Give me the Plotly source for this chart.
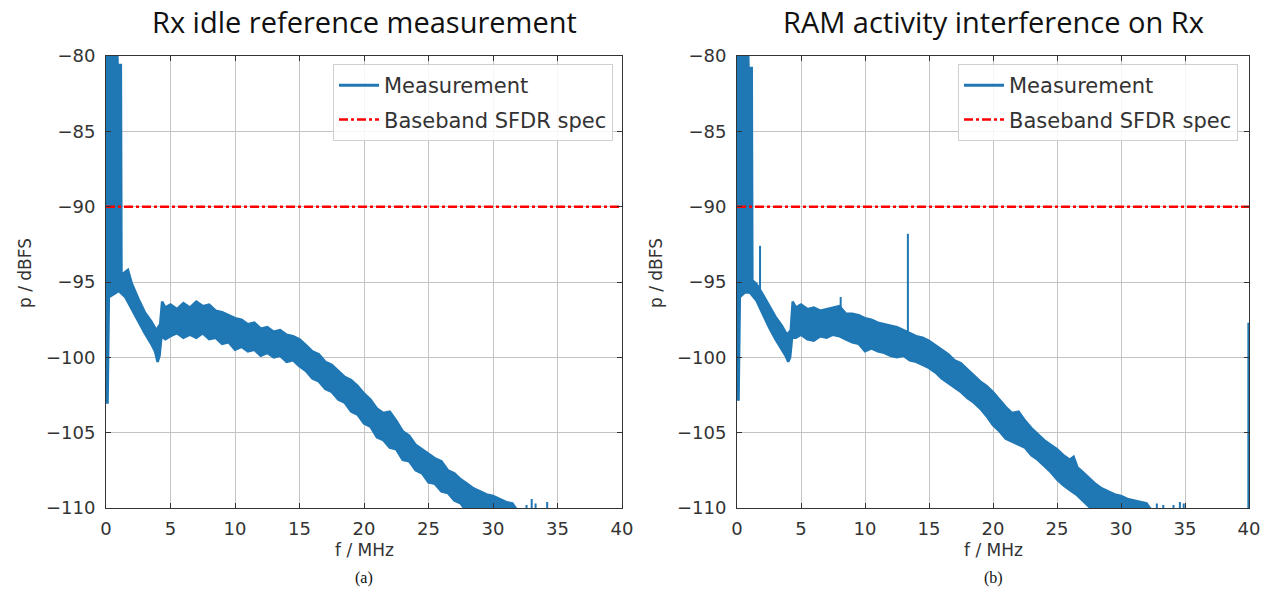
import plotly.graph_objects as go

# ---------------- data ----------------
panel_titles = ["Rx idle reference measurement", "RAM activity interference on Rx"]
panel_labels = ["(a)", "(b)"]
x_ticks = [0, 5, 10, 15, 20, 25, 30, 35, 40]
y_ticks = [-110, -105, -100, -95, -90, -85, -80]
sfdr_spec_db = -90.0

# panel (a): upper and lower envelope of the noisy measurement trace
upper_f_a = [0.0, 0.85, 0.9, 1.15, 1.2, 1.4, 1.7, 2.0, 2.5, 3.0, 3.5, 3.9, 4.2, 4.35, 4.6,
             5.0, 5.5, 6.0, 6.5, 7.0, 7.5, 8.0, 8.5, 9.0, 9.5, 10.0, 10.5, 11.0, 11.5, 12.0,
             12.5, 13.0, 13.5, 14.0, 14.5, 15.0, 15.5, 16.0, 16.5, 17.0, 17.5, 18.0, 18.5,
             19.0, 19.5, 20.0, 20.5, 21.0, 21.5, 22.0, 22.5, 23.0, 23.5, 24.0, 24.5, 25.0,
             25.5, 26.0, 26.5, 27.0, 27.5, 28.0, 28.5, 29.0, 29.5, 30.0, 30.5, 31.0, 31.5, 32.0]
upper_db_a = [-79.0, -79.0, -80.6, -80.6, -94.6, -94.4, -94.2, -95.1, -96.1, -97.0, -97.6,
              -98.2, -97.8, -96.3, -96.7, -96.5, -96.8, -96.4, -96.7, -96.3, -96.6, -96.5,
              -96.9, -97.0, -97.2, -97.4, -97.5, -97.8, -97.7, -98.1, -98.0, -98.3, -98.2,
              -98.5, -98.6, -98.8, -99.2, -99.6, -99.8, -100.3, -100.5, -100.9, -101.3,
              -101.5, -101.9, -102.4, -102.8, -103.4, -103.7, -103.6, -104.2, -104.9,
              -105.2, -105.8, -106.1, -106.4, -106.7, -106.9, -107.5, -107.7, -108.1,
              -108.4, -108.7, -108.9, -109.1, -109.2, -109.4, -109.6, -109.7, -110.3]
lower_f_a = [0.0, 0.12, 0.22, 0.6, 1.0, 1.5, 2.0, 2.5, 3.0, 3.5, 3.8, 4.0, 4.15, 4.3, 4.6,
             5.0, 5.5, 6.0, 6.5, 7.0, 7.5, 8.0, 8.5, 9.0, 9.5, 10.0, 10.5, 11.0, 11.5, 12.0,
             12.5, 13.0, 13.5, 14.0, 14.5, 15.0, 15.5, 16.0, 16.5, 17.0, 17.5, 18.0, 18.5,
             19.0, 19.5, 20.0, 20.5, 21.0, 21.5, 22.0, 22.5, 23.0, 23.5, 24.0, 24.5, 25.0,
             25.5, 26.0, 26.5, 27.0, 27.5, 28.0, 32.0]
lower_db_a = [-103.0, -103.0, -96.0, -95.8, -95.6, -96.0, -96.8, -97.6, -98.4, -99.1, -99.6,
              -100.3, -99.9, -98.6, -98.8, -98.6, -98.4, -98.7, -98.5, -98.7, -98.4, -98.8,
              -98.7, -99.1, -99.0, -99.5, -99.3, -99.6, -99.5, -99.9, -99.7, -100.0, -99.9,
              -100.3, -100.2, -100.6, -100.9, -101.4, -101.6, -102.1, -102.3, -102.8,
              -103.0, -103.6, -103.8, -104.4, -104.6, -105.3, -105.5, -106.0, -106.1,
              -106.8, -106.9, -107.5, -107.7, -108.3, -108.4, -108.9, -109.0, -109.5,
              -109.7, -110.3, -110.3]
spike_f_a = [32.6, 33.0, 33.3, 34.2]
spike_base_a = [-110.5, -110.5, -110.5, -110.5]
spike_top_a = [-109.8, -109.4, -109.7, -109.6]

# panel (b)
upper_f_b = [0.0, 0.85, 0.9, 1.15, 1.2, 1.5, 2.0, 2.5, 3.0, 3.5, 3.9, 4.2, 4.35, 4.6,
             5.0, 5.5, 6.0, 6.5, 7.0, 7.5, 8.0, 8.5, 9.0, 9.5, 10.0, 10.5, 11.0, 11.5, 12.0,
             12.5, 13.0, 13.5, 14.0, 14.5, 15.0, 15.5, 16.0, 16.5, 17.0, 17.5, 18.0, 18.5,
             19.0, 19.5, 20.0, 20.5, 21.0, 21.5, 22.0, 22.5, 23.0, 23.5, 24.0, 24.5, 25.0,
             25.5, 26.0, 26.3, 26.6, 27.0, 27.5, 28.0, 28.5, 29.0, 29.5, 30.0, 30.5, 31.0,
             31.5, 32.0, 32.5]
upper_db_b = [-79.0, -79.0, -80.8, -80.8, -94.9, -95.1, -95.8, -96.6, -97.3, -97.9, -98.5,
              -98.2, -96.3, -96.7, -96.5, -96.8, -96.7, -96.9, -96.8, -96.7, -96.6, -97.1,
              -97.1, -97.2, -97.4, -97.5, -97.7, -97.8, -97.9, -98.0, -98.2, -98.4, -98.6,
              -98.7, -98.9, -99.2, -99.5, -99.8, -100.2, -100.4, -100.8, -101.2, -101.6,
              -101.9, -102.3, -102.8, -103.3, -103.7, -103.6, -104.2, -104.7, -105.1,
              -105.5, -105.8, -106.1, -106.5, -106.8, -106.6, -107.3, -107.6, -108.0,
              -108.4, -108.7, -108.9, -109.1, -109.2, -109.4, -109.5, -109.6, -109.7, -110.3]
lower_f_b = [0.0, 0.12, 0.22, 0.6, 1.0, 1.5, 2.0, 2.5, 3.0, 3.5, 3.8, 4.0, 4.15, 4.3, 4.6,
             5.0, 5.5, 6.0, 6.5, 7.0, 7.5, 8.0, 8.5, 9.0, 9.5, 10.0, 10.5, 11.0, 11.5, 12.0,
             12.5, 13.0, 13.5, 14.0, 14.5, 15.0, 15.5, 16.0, 16.5, 17.0, 17.5, 18.0, 18.5,
             19.0, 19.5, 20.0, 20.5, 21.0, 21.5, 22.0, 22.5, 23.0, 23.5, 24.0, 24.5, 25.0,
             25.5, 26.0, 26.5, 27.0, 27.5, 28.0, 32.5]
lower_db_b = [-102.8, -102.8, -96.0, -95.7, -95.7, -96.2, -97.1, -98.0, -98.8, -99.5, -99.9,
              -100.3, -100.0, -98.7, -98.7, -98.5, -98.8, -98.9, -98.6, -98.7, -98.5, -98.6,
              -98.8, -99.0, -99.1, -99.6, -99.4, -99.6, -99.7, -99.9, -100.0, -99.9, -100.2,
              -100.3, -100.5, -100.7, -101.0, -101.4, -101.7, -102.0, -102.3, -102.7,
              -103.0, -103.4, -103.9, -104.5, -104.9, -105.4, -105.6, -105.8, -106.0,
              -106.5, -106.8, -107.2, -107.6, -108.1, -108.5, -108.8, -109.1, -109.5,
              -109.9, -110.3, -110.3]
spike_f_b = [1.8, 8.1, 13.35, 32.8, 33.3, 34.1, 34.6, 34.9, 39.95]
spike_base_b = [-95.5, -97.0, -98.6, -110.5, -110.5, -110.5, -110.5, -110.5, -110.5]
spike_top_b = [-92.6, -96.0, -91.8, -109.7, -109.8, -109.8, -109.6, -109.7, -97.7]

# ---------------- figure ----------------
BLUE = "#1f77b4"
RED = "#ff0000"
W, H = 1266, 600


def px(x):
    return x / W


def py(y):
    return 1 - y / H


fig = go.Figure()

panels = [
    (upper_f_a, upper_db_a, lower_f_a, lower_db_a, spike_f_a, spike_base_a, spike_top_a),
    (upper_f_b, upper_db_b, lower_f_b, lower_db_b, spike_f_b, spike_base_b, spike_top_b),
]
legend_names = ["legend", "legend2"]

for i, (uf, ud, lf, ld, sf, sb, st) in enumerate(panels):
    xa = "x" if i == 0 else "x2"
    ya = "y" if i == 0 else "y2"
    lg = legend_names[i]
    poly_x = list(uf) + list(reversed(lf))
    poly_y = list(ud) + list(reversed(ld))
    fig.add_trace(go.Scatter(x=poly_x, y=poly_y, mode="lines", fill="toself",
                             fillcolor=BLUE, line=dict(color=BLUE, width=2.5),
                             xaxis=xa, yaxis=ya, showlegend=False, hoverinfo="skip"))
    sx, sy = [], []
    for f, b, t in zip(sf, sb, st):
        sx += [f, f, None]
        sy += [b, t, None]
    fig.add_trace(go.Scatter(x=sx, y=sy, mode="lines", line=dict(color=BLUE, width=2),
                             xaxis=xa, yaxis=ya, showlegend=False, hoverinfo="skip"))
    # legend entry for the measurement
    fig.add_trace(go.Scatter(x=[None], y=[None], mode="lines", name="Measurement",
                             line=dict(color=BLUE, width=3), xaxis=xa, yaxis=ya,
                             legend=lg, legendgroup="m"))
    fig.add_trace(go.Scatter(x=[x_ticks[0], x_ticks[-1]], y=[sfdr_spec_db, sfdr_spec_db],
                             mode="lines", name="Baseband SFDR spec",
                             line=dict(color=RED, width=2.5, dash="dashdot"),
                             xaxis=xa, yaxis=ya, legend=lg, legendgroup="s"))

tick_font = dict(family="DejaVu Sans", size=18, color="#333333")
common_x = dict(range=[0, 40], tickmode="array", tickvals=x_ticks, ticks="inside",
                ticklen=5, tickcolor="#333333", showline=True, linecolor="#333333",
                linewidth=1, mirror="ticks", showgrid=True, gridcolor="#c4c4c4",
                gridwidth=1, zeroline=False, tickfont=tick_font, ticklabelstandoff=4,
                automargin=False)
common_y = dict(range=[-110, -80], tickmode="array", tickvals=y_ticks,
                ticktext=["\u2212" + str(abs(v)) for v in y_ticks], ticks="inside",
                ticklen=5, tickcolor="#333333", showline=True, linecolor="#333333",
                linewidth=1, mirror="ticks", showgrid=True, gridcolor="#c4c4c4",
                gridwidth=1, zeroline=False, tickfont=tick_font, ticklabelstandoff=6,
                automargin=False)

x_dom = [[px(106), px(622)], [px(737), px(1249)]]
y_dom = [py(508), py(56)]

leg_common = dict(font=dict(family="DejaVu Sans", size=21, color="#333333"),
                  bgcolor="rgba(255,255,255,0.85)", bordercolor="#d0d0d0", borderwidth=1,
                  xanchor="right", yanchor="top", y=py(64), traceorder="grouped",
                  tracegroupgap=4, itemwidth=40)

fig.update_layout(
    width=W, height=H,
    margin=dict(l=0, r=0, t=0, b=0, autoexpand=False),
    paper_bgcolor="white", plot_bgcolor="white",
    xaxis=dict(domain=x_dom[0], anchor="y", **common_x),
    yaxis=dict(domain=y_dom, anchor="x", **common_y),
    xaxis2=dict(domain=x_dom[1], anchor="y2", **common_x),
    yaxis2=dict(domain=y_dom, anchor="x2", **common_y),
    legend=dict(x=px(613), **leg_common),
    legend2=dict(x=px(1238), **leg_common),
)

centers = [364, 993]
title_font = dict(family="Open Sans", size=29, color="#111111")
for i in range(2):
    cx = px(centers[i])
    fig.add_annotation(text=panel_titles[i], x=cx, y=py(21), xref="paper", yref="paper",
                       showarrow=False, font=title_font, xanchor="center", yanchor="middle")
    fig.add_annotation(text="f / MHz", x=cx, y=py(550), xref="paper", yref="paper",
                       showarrow=False, font=dict(family="DejaVu Sans", size=17, color="#333333"),
                       xanchor="center", yanchor="middle")
    fig.add_annotation(text=panel_labels[i], x=cx, y=py(578), xref="paper", yref="paper",
                       showarrow=False, font=dict(family="Liberation Serif", size=16, color="#111111"),
                       xanchor="center", yanchor="middle")
    fig.add_annotation(text="p / dBFS", x=px([25, 656][i]), y=py(273), xref="paper",
                       yref="paper", showarrow=False, textangle=-90,
                       font=dict(family="DejaVu Sans", size=17, color="#333333"),
                       xanchor="center", yanchor="middle")

fig.write_html("out.html",
               config={"displayModeBar": False},
               post_script="document.body.style.margin='0';document.body.style.padding='0';")
